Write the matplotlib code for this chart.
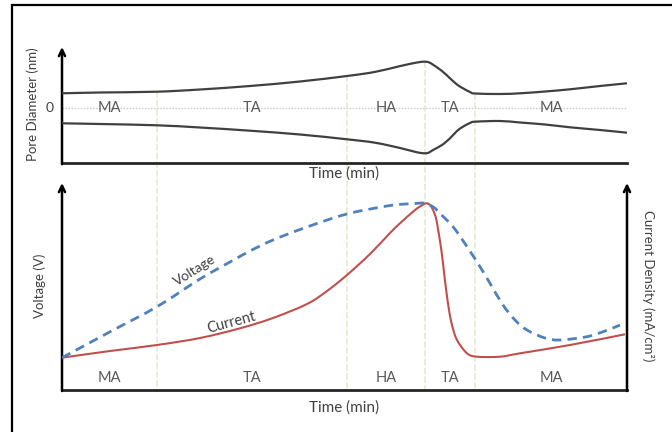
import matplotlib
matplotlib.use('Agg')
import matplotlib.pyplot as plt
import numpy as np
from matplotlib.patches import ConnectionPatch, Rectangle, PathPatch
from matplotlib.path import Path

plt.rcParams['font.family'] = ['Lato', 'DejaVu Sans']

# ---------------- data ----------------
# time in arbitrary minutes (schematic)
pore_time = [0, 38, 95, 138, 188, 238, 285, 313, 338, 355, 363, 367, 371, 380, 388,
             395, 401, 408, 413, 438, 458, 483, 508, 538, 565]
pore_upper = [14.4, 15.2, 16.0, 18.2, 21.7, 26.2, 31.7, 35.8, 41.6, 45.2, 46.0, 45.3,
              43.0, 36.7, 29.4, 23.2, 19.4, 15.7, 14.2, 13.7, 14.4, 16.2, 18.4, 21.7, 24.4]
pore_lower = [-15.6, -16.3, -17.6, -19.8, -23.0, -26.8, -31.6, -35.0, -40.3, -44.6,
              -45.6, -44.8, -42.3, -37.3, -30.6, -23.3, -19.0, -15.3, -14.0, -13.3,
              -14.8, -16.8, -19.6, -22.3, -25.0]

volt_time = [0, 48, 95, 138, 168, 188, 211, 245, 285, 328, 350, 363, 372, 378, 391,
             405, 418, 428, 441, 453, 465, 483, 498, 525, 543, 558]
voltage = [32.3, 58.2, 83.3, 111.0, 128.0, 139.0, 150.0, 163.0, 176.0, 184.5, 186.3,
           186.7, 182.5, 176.5, 163.3, 143.3, 123.3, 106.7, 85.0, 70.0, 60.0, 52.0,
           50.0, 53.3, 59.0, 65.0]

curr_time = [0, 48, 95, 138, 178, 211, 245, 265, 285, 308, 328, 338, 351, 358, 364,
             368, 371, 374, 376, 378, 380, 382, 384, 387, 390, 395, 405, 415, 438, 458,
             508, 563]
current = [32.3, 39.0, 45.0, 52.0, 61.7, 72.0, 86.0, 99.0, 115.0, 136.0, 157.0, 166.7,
           178.3, 183.5, 186.7, 185.0, 180.0, 172.0, 161.0, 149.0, 135.0, 118.0, 101.0,
           80.0, 65.0, 50.0, 36.7, 33.3, 33.3, 36.7, 45.0, 55.7]

boundaries = [0, 95, 285, 363, 413, 565]
regions = ['MA', 'TA', 'HA', 'TA', 'MA']


def smooth_path(xs, ys):
    """Smoothed (Bezier) line through the given points, like a 'smoothed line' chart."""
    p = np.column_stack([xs, ys]).astype(float)
    n = len(p)
    verts = [p[0]]
    codes = [Path.MOVETO]
    for i in range(n - 1):
        p0 = p[i - 1] if i > 0 else p[i]
        p1 = p[i]
        p2 = p[i + 1]
        p3 = p[i + 2] if i + 2 < n else p[i + 1]
        c1 = p1 + (p2 - p0) / 6.0
        c2 = p2 - (p3 - p1) / 6.0
        verts += [c1, c2, p2]
        codes += [Path.CURVE4] * 3
    return Path(np.array(verts), codes)


# ---------------- figure ----------------
W, H = 672, 432
fig = plt.figure(figsize=(W / 100, H / 100), dpi=100)


def fx(px):
    return px / W


def fy(py):
    return 1 - py / H


ax1 = fig.add_axes([fx(62), fy(163), fx(627) - fx(62), fy(47) - fy(163)])
ax2 = fig.add_axes([fx(62), fy(390), fx(627) - fx(62), fy(183) - fy(390)])

for ax in (ax1, ax2):
    ax.set_xlim(0, 565)
    ax.set_xticks([])
    ax.set_yticks([])
    for s in ('top', 'left', 'right'):
        ax.spines[s].set_visible(False)
    ax.spines['bottom'].set_linewidth(2.0)
    ax.spines['bottom'].set_color('#262626')
    ax.patch.set_alpha(0)

ax1.set_ylim(-55.3, 60.7)
ax2.set_ylim(0, 207)

arrow_kw = dict(arrowstyle='->,head_length=0.45,head_width=0.22', lw=1.8,
                color='black', shrinkA=0, shrinkB=0)
ax1.annotate('', xy=(0, 1), xytext=(0, -0.01), xycoords='axes fraction',
             arrowprops=arrow_kw)
ax2.annotate('', xy=(0, 1), xytext=(0, -0.005), xycoords='axes fraction',
             arrowprops=arrow_kw)
ax2.annotate('', xy=(1, 1), xytext=(1, -0.005), xycoords='axes fraction',
             arrowprops=arrow_kw)

# zero line
ax1.axhline(0, color='#c8c8c8', ls=(0, (1, 1.2)), lw=1.0, zorder=1)

# pore curves
for yy in (pore_upper, pore_lower):
    ax1.add_patch(PathPatch(smooth_path(pore_time, yy), fill=False,
                            edgecolor='#404040', lw=1.6, zorder=3))

# voltage / current
ax2.add_patch(PathPatch(smooth_path(curr_time, current), fill=False,
                        edgecolor='#c0504d', lw=1.5, zorder=3))
ax2.add_patch(PathPatch(smooth_path(volt_time, voltage), fill=False,
                        edgecolor='#4f81bd', lw=2.0, ls=(0, (3.4, 2.2)), zorder=4))

# vertical region separators
for b in boundaries[1:-1]:
    top = np.interp(b, pore_time, pore_upper)
    con = ConnectionPatch(xyA=(b, top), coordsA=ax1.transData,
                          xyB=(b, 0), coordsB=ax2.transData,
                          color='#c4d79b', lw=0.6, ls=(0, (7, 3.5)), zorder=0)
    fig.add_artist(con)

# region labels
for i, lab in enumerate(regions):
    mid = (boundaries[i] + boundaries[i + 1]) / 2
    ax1.text(mid, 0, lab, ha='center', va='center', fontsize=10.5, color='#595959',
             zorder=5)
    ax2.text(mid, 12, lab, ha='center', va='center', fontsize=10.5, color='#595959')

ax1.text(-12, 0, '0', ha='center', va='center', fontsize=10, color='#404040')

# curve labels
ax2.text(133, 120, 'Voltage', rotation=32, ha='center', va='center',
         fontsize=10, color='#404040')
ax2.text(169, 67, 'Current', rotation=15, ha='center', va='center',
         fontsize=10.5, color='#404040')

# axis titles
tc = '#404040'
fig.text(fx(344), fy(174), 'Time (min)', ha='center', va='center', fontsize=11, color=tc)
fig.text(fx(344), fy(408), 'Time (min)', ha='center', va='center', fontsize=11, color=tc)
fig.text(fx(33), fy(104), 'Pore Diameter (nm)', rotation=90, ha='center', va='center',
         fontsize=9.5, color=tc)
fig.text(fx(40), fy(286), 'Voltage (V)', rotation=90, ha='center', va='center',
         fontsize=9.5, color=tc)
fig.text(fx(648), fy(286), 'Current Density (mA/cm²)', rotation=270, ha='center',
         va='center', fontsize=9.5, color=tc)

# outer frame
fig.add_artist(Rectangle((fx(12), -0.1), 1.2, fy(5) + 0.1, transform=fig.transFigure,
                         fill=False, lw=1.6, edgecolor='black'))

fig.savefig('out.png', dpi=100)
